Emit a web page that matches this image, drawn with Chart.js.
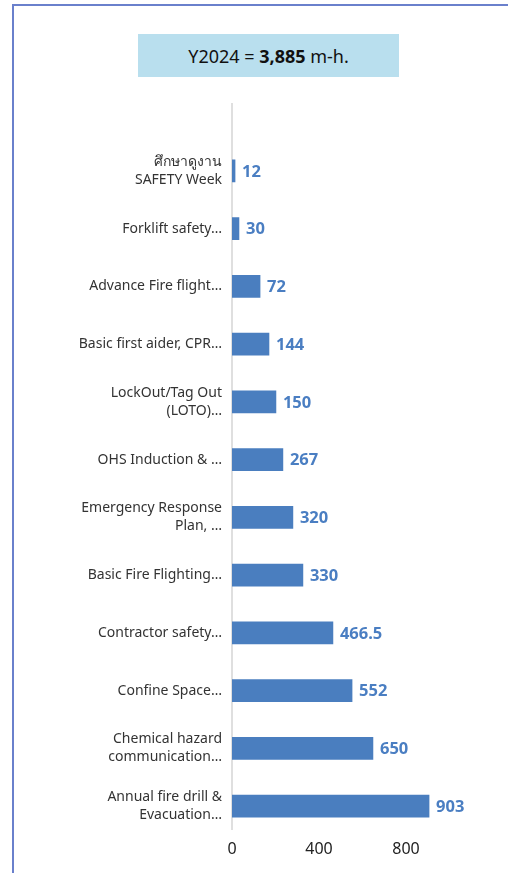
<!DOCTYPE html>
<html>
<head>
<meta charset="utf-8">
<script src="https://cdn.jsdelivr.net/npm/chart.js@4.4.1/dist/chart.umd.min.js"></script>
<style>
  body { margin: 0; background: #fff; }
  #wrap { position: relative; width: 508px; height: 875px; }
  #frame { position: absolute; left: 12px; top: 4px; right: 0; bottom: 2px;
           border-left: 2px solid #6a80cc; border-top: 2px solid #6a80cc; }
  #titulo { position: absolute; left: 138px; top: 34px; width: 261px; height: 43px;
            background: #b9dfee; font: 18px "Noto Sans", sans-serif; color: #111;
            display: flex; align-items: center; justify-content: center; }
  canvas { position: absolute; left: 0; top: 0; }
</style>
</head>
<body>
<div id="wrap">
  <div id="frame"></div>
  <div id="titulo"><span>Y2024 = <b>3,885</b> m-h.</span></div>
  <canvas id="grafico" width="508" height="875"></canvas>
</div>
<script>
const categorias = [
  ['ศึกษาดูงาน', 'SAFETY Week'],
  'Forklift safety…',
  'Advance Fire flight…',
  'Basic first aider, CPR…',
  ['LockOut/Tag Out', '(LOTO)…'],
  'OHS Induction & …',
  ['Emergency Response', 'Plan, …'],
  'Basic Fire Flighting…',
  'Contractor safety…',
  'Confine Space…',
  ['Chemical hazard', 'communication…'],
  ['Annual fire drill &', 'Evacuation…']
];
// comprimento das barras
const barras = [14, 32, 129, 170, 202, 234, 280, 326, 464, 552, 648, 906];
// números escritos ao lado das barras
const valores = ['12', '30', '72', '144', '150', '267', '320', '330', '466.5', '552', '650', '903'];
const ticksX = [0, 400, 800];

const corBarra = '#4a7ebf';

// valores ao lado das barras
const rotulos = {
  id: 'rotulos',
  afterDatasetsDraw(chart) {
    const c = chart.ctx;
    c.save();
    c.font = 'bold 16.5px "Noto Sans", sans-serif';
    c.fillStyle = '#4a7ec2';
    c.textAlign = 'left';
    c.textBaseline = 'middle';
    chart.getDatasetMeta(0).data.forEach((bar, i) => {
      c.fillText(valores[i], bar.x + 7, bar.y + 1);
    });
    c.restore();
  }
};

// linha do eixo (vai mais alto que as barras, como no original)
const linhaZero = {
  id: 'linhaZero',
  beforeDatasetsDraw(chart) {
    const c = chart.ctx;
    const x = chart.scales.x.getPixelForValue(0);
    c.save();
    c.strokeStyle = '#d4d4d4';
    c.lineWidth = 1.5;
    c.beginPath();
    c.moveTo(x, 103);
    c.lineTo(x, 830);
    c.stroke();
    c.restore();
  }
};

new Chart(document.getElementById('grafico'), {
  type: 'bar',
  data: {
    labels: categorias,
    datasets: [{
      data: barras,
      backgroundColor: corBarra,
      barThickness: 22
    }]
  },
  plugins: [linhaZero, rotulos],
  options: {
    indexAxis: 'y',
    responsive: false,
    animation: false,
    layout: { padding: { top: 142, right: 58.5, bottom: 0, left: 0 } },
    plugins: {
      legend: { display: false },
      tooltip: { enabled: false }
    },
    scales: {
      x: {
        min: 0,
        max: 1000,
        afterBuildTicks: ax => { ax.ticks = ticksX.map(v => ({ value: v })); },
        afterFit: ax => { ax.height = 40; },
        grid: { display: false, drawTicks: false },
        border: { display: false },
        ticks: {
          padding: 5,
          color: '#222',
          font: { family: '"Noto Sans", sans-serif', size: 16 }
        }
      },
      y: {
        afterFit: ax => { ax.width = 232; },
        grid: { display: false, drawTicks: false },
        border: { display: false },
        ticks: {
          padding: 10,
          color: '#333',
          font: { family: '"Noto Sans", sans-serif', size: 14, lineHeight: 1.3 }
        }
      }
    }
  }
});
</script>
</body>
</html>
